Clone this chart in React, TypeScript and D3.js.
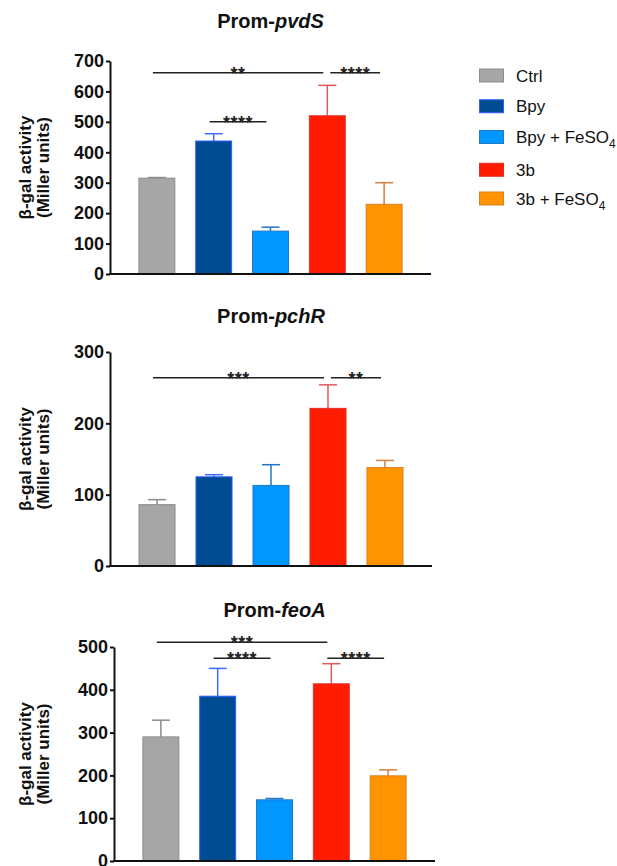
import React, { useEffect, useRef } from "react";
import * as d3 from "d3";

// groups shown in every panel
const groups = ["Ctrl", "Bpy", "Bpy + FeSO4", "3b", "3b + FeSO4"];
const fills = ["#a6a6a6", "#004c92", "#0098ff", "#ff1c00", "#ff9300"];
const strokes = ["#8c8c8c", "#2f5cff", "#1f78c8", "#e0302a", "#d9801f"];
const errColors = ["#8c8c8c", "#3f6cff", "#1f78c8", "#e05a5a", "#d08040"];

// Prom-pvdS
const pvdsMean = [315, 437, 141, 520, 229];
const pvdsSem = [2, 24, 13, 100, 71];
const pvdsTicks = [0, 100, 200, 300, 400, 500, 600, 700];
const pvdsSig = [
  { a: 0, b: 3, level: 661, label: "**" },
  { a: 3, b: 4, level: 661, label: "****" },
  { a: 1, b: 2, level: 500, label: "****" },
];

// Prom-pchR
const pchrMean = [86, 125, 113, 221, 138];
const pchrSem = [7, 3, 29, 33, 10];
const pchrTicks = [0, 100, 200, 300];
const pchrSig = [
  { a: 0, b: 3, level: 264, label: "***" },
  { a: 3, b: 4, level: 264, label: "**" },
];

// Prom-feoA
const feoaMean = [290, 385, 143, 414, 199];
const feoaSem = [39, 65, 3, 47, 14];
const feoaTicks = [0, 100, 200, 300, 400, 500];
const feoaSig = [
  { a: 0, b: 3, level: 511, label: "***" },
  { a: 1, b: 2, level: 474, label: "****" },
  { a: 3, b: 4, level: 474, label: "****" },
];

const FONT = "'Liberation Sans', Arial, Helvetica, sans-serif";

const panels = [
  { gene: "pvdS", mean: pvdsMean, sem: pvdsSem, ticks: pvdsTicks, sig: pvdsSig,
    left: 110, right: 431, top: 61, bottom: 274, titleY: 28 },
  { gene: "pchR", mean: pchrMean, sem: pchrSem, ticks: pchrTicks, sig: pchrSig,
    left: 110, right: 432, top: 352, bottom: 566, titleY: 323 },
  { gene: "feoA", mean: feoaMean, sem: feoaSem, ticks: feoaTicks, sig: feoaSig,
    left: 114, right: 435, top: 647, bottom: 861, titleY: 617 },
];

function drawPanel(g: any, p: any) {
  const x = d3.scaleBand().domain(groups).range([p.left, p.right])
    .paddingInner(0.35).paddingOuter(0.5);
  const y = d3.scaleLinear().domain([0, d3.max(p.ticks) as number]).range([p.bottom, p.top]);
  const cx = (i: number) => (x(groups[i]) as number) + x.bandwidth() / 2;

  // title
  const t = g.append("text")
    .attr("x", (p.left + p.right) / 2).attr("y", p.titleY)
    .attr("text-anchor", "middle").attr("font-family", FONT)
    .attr("font-size", 20).attr("font-weight", "bold").attr("fill", "#111");
  t.append("tspan").text("Prom-");
  t.append("tspan").attr("font-style", "italic").text(p.gene);

  // y label
  const midY = (p.top + p.bottom) / 2;
  [["β-gal activity", 31], ["(Miller units)", 49]].forEach(([s, bx]) => {
    g.append("text")
      .attr("transform", `translate(${bx},${midY}) rotate(-90)`)
      .attr("text-anchor", "middle").attr("font-family", FONT)
      .attr("font-size", 17).attr("font-weight", "bold").attr("fill", "#111")
      .text(s as string);
  });

  // error bars
  const err = g.append("g");
  p.mean.forEach((m: number, i: number) => {
    const c = cx(i);
    err.append("line").attr("x1", c).attr("x2", c)
      .attr("y1", y(m)).attr("y2", y(m + p.sem[i]))
      .attr("stroke", errColors[i]).attr("stroke-width", 1.5);
    err.append("line").attr("x1", c - 9).attr("x2", c + 9)
      .attr("y1", y(m + p.sem[i])).attr("y2", y(m + p.sem[i]))
      .attr("stroke", errColors[i]).attr("stroke-width", 1.5);
  });

  // bars
  g.append("g").selectAll("rect").data(p.mean).join("rect")
    .attr("x", (_: number, i: number) => (x(groups[i]) as number) + 0.5)
    .attr("y", (d: number) => y(d))
    .attr("width", x.bandwidth() - 1)
    .attr("height", (d: number) => y(0) - y(d))
    .attr("fill", (_: number, i: number) => fills[i])
    .attr("stroke", (_: number, i: number) => strokes[i])
    .attr("stroke-width", 1);

  // axes
  const yAxis = d3.axisLeft(y).tickValues(p.ticks).tickSize(4).tickSizeOuter(0)
    .tickPadding(2).tickFormat(d3.format("d"));
  const ax = g.append("g").attr("transform", `translate(${p.left},0)`).call(yAxis);
  ax.select(".domain").attr("stroke", "#111").attr("stroke-width", 2);
  ax.selectAll(".tick line").attr("stroke", "#111").attr("stroke-width", 2);
  ax.selectAll(".tick text").attr("font-family", FONT).attr("font-size", 18)
    .attr("font-weight", "bold").attr("fill", "#111");

  g.append("line").attr("x1", p.left - 1).attr("x2", p.right)
    .attr("y1", y(0)).attr("y2", y(0)).attr("stroke", "#111").attr("stroke-width", 2);

  // significance brackets
  p.sig.forEach((s: any) => {
    const shared = p.sig.some((o: any) => o !== s && o.level === s.level && o.b === s.a);
    const x1 = cx(s.a) + (shared ? 3 : -4);
    const x2 = cx(s.b) - 4;
    const ly = y(s.level);
    g.append("line").attr("x1", x1).attr("x2", x2).attr("y1", ly).attr("y2", ly)
      .attr("stroke", "#222").attr("stroke-width", 1.5);
    g.append("text").attr("x", (x1 + x2) / 2).attr("y", ly + 7)
      .attr("text-anchor", "middle").attr("font-family", FONT)
      .attr("font-size", 18).attr("font-weight", "bold").attr("letter-spacing", 0.5)
      .attr("fill", "#222").text(s.label);
  });
}

function drawLegend(g: any) {
  const rowY = d3.scalePoint().domain(groups).range([75.5, 198.5]);
  groups.forEach((name, i) => {
    const cy = (rowY(name) as number) + (i === 3 ? 2 : 0);
    g.append("rect").attr("x", 479.5).attr("y", cy - 6.5).attr("width", 24).attr("height", 13)
      .attr("fill", fills[i]).attr("stroke", strokes[i]).attr("stroke-width", 1);
    const t = g.append("text").attr("x", 516).attr("y", cy + 6)
      .attr("font-family", FONT).attr("font-size", 17).attr("fill", "#111");
    const m = name.match(/^(.*FeSO)4$/);
    if (m) {
      t.append("tspan").text(m[1]);
      t.append("tspan").attr("dy", 5).attr("font-size", 12).text("4");
    } else {
      t.text(name);
    }
  });
}

const App = () => {
  const svgRef = useRef<SVGSVGElement>(null);

  useEffect(() => {
    const svg = d3.select(svgRef.current);
    svg.selectAll("*").remove();
    panels.forEach((p) => drawPanel(svg.append("g"), p));
    drawLegend(svg.append("g"));
  }, []);

  return (
    <svg
      ref={svgRef}
      width={617}
      height={866}
      style={{ position: "absolute", left: 0, top: 0, background: "#fff" }}
    />
  );
};

export default App;
